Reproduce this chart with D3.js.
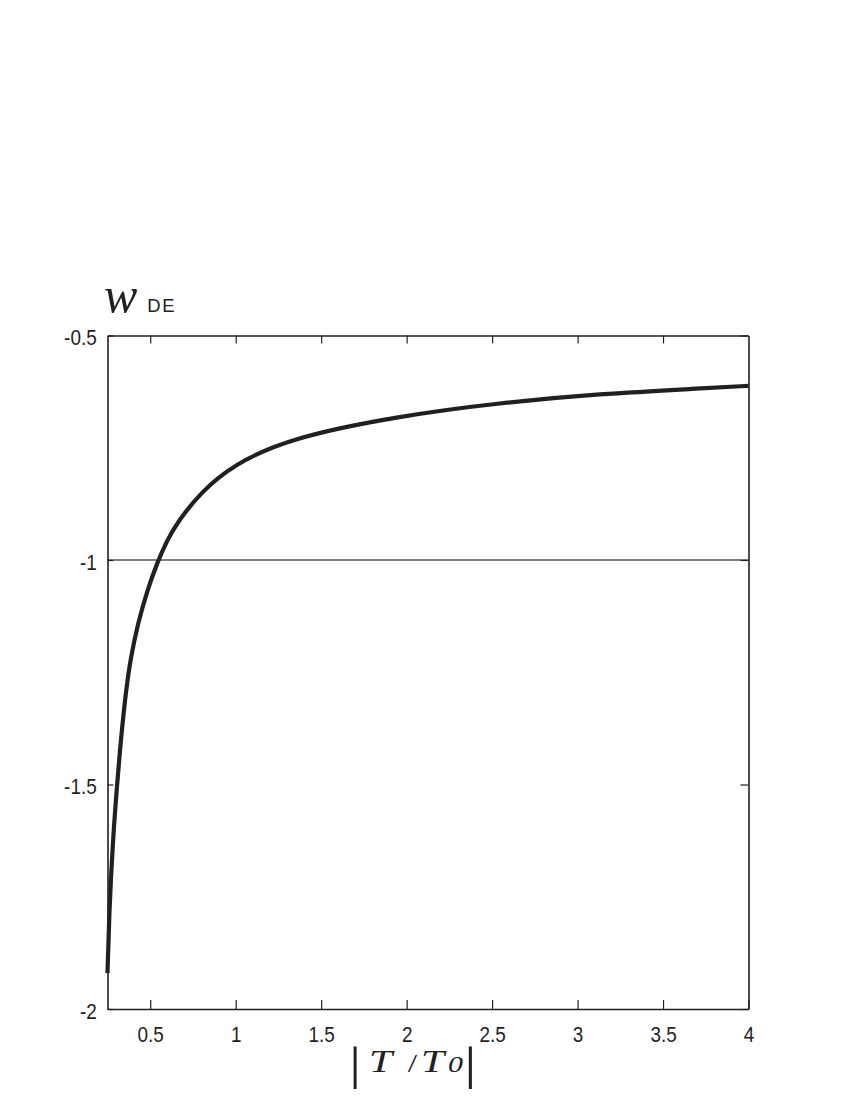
<!DOCTYPE html>
<html>
<head>
<meta charset="utf-8">
<script src="https://cdn.jsdelivr.net/npm/d3@7"></script>
<style>
  html, body { margin: 0; padding: 0; background: #fff; }
  svg { display: block; }
</style>
</head>
<body>
<svg id="chart" width="850" height="1100"></svg>
<script>
// ---- data ----
const tRatio = [0.25, 0.260, 0.279, 0.306, 0.328, 0.358, 0.387, 0.428, 0.483, 0.547, 0.601, 0.655, 0.791, 0.984, 1.317, 1.960, 2.545, 3.130, 3.715, 4.0];
const wDE    = [-1.920, -1.787, -1.639, -1.499, -1.401, -1.290, -1.215, -1.141, -1.067, -1.000, -0.955, -0.918, -0.851, -0.788, -0.728, -0.679, -0.650, -0.630, -0.618, -0.612];
const xTicks = [0.5, 1, 1.5, 2, 2.5, 3, 3.5, 4];
const xTickLabels = ["0.5", "1", "1.5", "2", "2.5", "3", "3.5", "4"];
const yTicks = [-0.5, -1, -1.5, -2];
const yTickLabels = ["-0.5", "-1", "-1.5", "-2"];
const refLine = [-1];

const svg = d3.select("#chart");
const mLeft = 107.5, mRight = 748.5, mTop = 335.5, mBottom = 1009;

const x = d3.scaleLinear().domain([0.25, 4]).range([mLeft, mRight]);
const y = d3.scaleLinear().domain([-2, -0.5]).range([mBottom, mTop]);

const ink = "#231f20";
const tickFont = "'Liberation Sans', Arial, sans-serif";
const squeeze = 0.88;

// reference line at w = -1
svg.selectAll("line.ref").data(refLine).enter().append("line")
  .attr("class", "ref")
  .attr("x1", mLeft).attr("x2", mRight)
  .attr("y1", d => y(d)).attr("y2", d => y(d))
  .attr("stroke", "#000").attr("stroke-width", 1.2);

// axes (ticks pointing inward)
const gB = svg.append("g").attr("transform", `translate(0,${mBottom})`)
  .call(d3.axisBottom(x).tickValues(xTicks).tickSizeInner(-9).tickSizeOuter(0)
        .tickFormat((d, i) => xTickLabels[i]));
const gT = svg.append("g").attr("transform", `translate(0,${mTop})`)
  .call(d3.axisTop(x).tickValues(xTicks.slice(0, -1)).tickSizeInner(-8).tickSizeOuter(0)
        .tickFormat(""));
const gL = svg.append("g").attr("transform", `translate(${mLeft},0)`)
  .call(d3.axisLeft(y).tickValues(yTicks).tickSizeInner(-6).tickSizeOuter(0)
        .tickFormat((d, i) => yTickLabels[i]));
const gR = svg.append("g").attr("transform", `translate(${mRight},0)`)
  .call(d3.axisRight(y).tickValues(yTicks).tickSizeInner(-8).tickSizeOuter(0)
        .tickFormat(""));

[gB, gT, gL, gR].forEach(g => {
  g.select(".domain").attr("stroke", ink).attr("stroke-width", 1.6);
  g.selectAll(".tick line").attr("stroke", ink).attr("stroke-width", 1.2);
  g.selectAll(".tick text").attr("fill", ink)
    .style("font-family", tickFont).style("font-size", "21.5px");
});
gB.selectAll(".tick text").attr("y", 33).attr("dy", 0)
  .attr("transform", `scale(${squeeze},1)`);
gL.selectAll(".tick text").attr("x", -10.8 / squeeze).attr("y", 9.2).attr("dy", 0)
  .attr("transform", `scale(${squeeze},1)`);

// curve
const pts = tRatio.map((t, i) => [t, wDE[i]]);
svg.append("path")
  .datum(pts)
  .attr("fill", "none")
  .attr("stroke", ink)
  .attr("stroke-width", 4.2)
  .attr("stroke-linecap", "butt")
  .attr("d", d3.line().x(d => x(d[0])).y(d => y(d[1])).curve(d3.curveBasis));

// y-axis label w_DE
const yl = svg.append("text").attr("x", 104).attr("y", 311.5).attr("fill", ink);
yl.append("tspan").text("w")
  .style("font-family", "'Liberation Serif', 'DejaVu Serif', serif")
  .style("font-style", "italic").style("font-size", "50px");
yl.append("tspan").text("DE").attr("dx", 10)
  .style("letter-spacing", "1.5px")
  .style("font-family", "'Liberation Sans', sans-serif").style("font-size", "18.5px");

// x-axis label |T/T0|
const xl = svg.append("text")
  .attr("transform", "translate(349,1072) scale(1.3,1)")
  .attr("fill", ink)
  .style("font-family", "'Liberation Serif', serif");
xl.append("tspan").text("|").attr("dy", 7).style("font-size", "47px");
xl.append("tspan").text("T").attr("dy", -7).attr("dx", 6)
  .style("font-style", "italic").style("font-size", "32px");
xl.append("tspan").text("/").attr("dx", 12).style("font-size", "26px");
xl.append("tspan").text("T").attr("dx", 2.9)
  .style("font-style", "italic").style("font-size", "32px");
xl.append("tspan").text("0").attr("dx", 3)
  .style("font-style", "italic").style("font-size", "23px");
xl.append("tspan").text("|").attr("dy", 7).attr("dx", 1.1).style("font-size", "47px");
</script>
</body>
</html>
